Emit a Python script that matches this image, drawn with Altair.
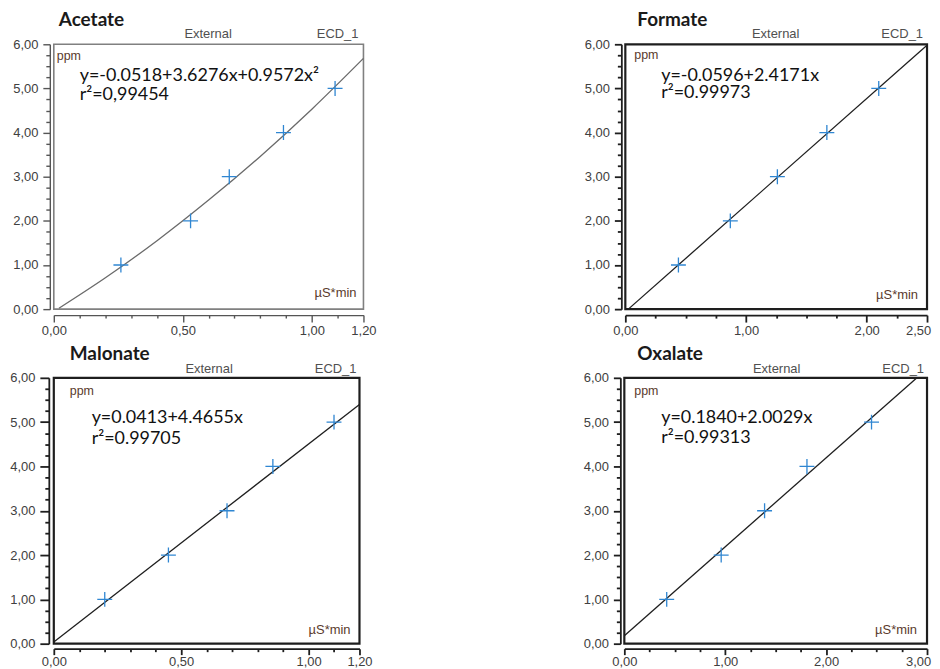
import json
import altair as alt
import pandas as pd

# ---------------- data ----------------
names = ["Acetate", "Formate", "Malonate", "Oxalate"]
equations = ["y=-0.0518+3.6276x+0.9572x²", "y=-0.0596+2.4171x",
             "y=0.0413+4.4655x", "y=0.1840+2.0029x"]
r2_texts = ["r²=0,99454", "r²=0.99973", "r²=0.99705", "r²=0.99313"]

conc_ppm = [1, 2, 3, 4, 5]
acetate_area = [0.26, 0.53, 0.68, 0.89, 1.09]
formate_area = [0.44, 0.87, 1.26, 1.67, 2.10]
malonate_area = [0.20, 0.45, 0.68, 0.86, 1.10]
oxalate_area = [0.42, 0.96, 1.39, 1.81, 2.45]

# calibration curves
acetate_fit_x = [0.02, 0.20, 0.40, 0.60, 0.80, 1.00, 1.20]
acetate_fit_y = [0.02, 0.71, 1.55, 2.47, 3.46, 4.53, 5.68]
formate_fit_x = [0.025, 2.50]
formate_fit_y = [0.00, 5.98]
malonate_fit_x = [0.00, 1.20]
malonate_fit_y = [0.04, 5.40]
oxalate_fit_x = [0.00, 2.90]
oxalate_fit_y = [0.18, 6.00]

x_max = [1.2, 2.5, 1.2, 3.0]
x_major = [[0, 0.5, 1.0, 1.2], [0, 1.0, 2.0, 2.5], [0, 0.5, 1.0, 1.2], [0, 1.0, 2.0, 3.0]]
x_minor_step = [0.1, 0.25, 0.1, 0.25]
y_max = 6.0
y_major = [0, 1.0, 2.0, 3.0, 4.0, 5.0, 6.0]
y_minor_step = 0.25

header_mid = "External"
header_right = "ECD_1"
y_unit = "ppm"
x_unit = "µS*min"

areas = [acetate_area, formate_area, malonate_area, oxalate_area]
fits = [(acetate_fit_x, acetate_fit_y), (formate_fit_x, formate_fit_y),
        (malonate_fit_x, malonate_fit_y), (oxalate_fit_x, oxalate_fit_y)]

# ---------------- styling / layout ----------------
SANS = "Liberation Sans"
CAL = "Lato"
styles = [
    dict(w=311, h=266, frame="#808080", frame_w=1.6, axis="#555555", axis_w=1.4,
         line="#6a6a6a", line_w=1.3, interp="monotone",
         title_dx=5, title_dy=-18, eq_x=26, eq_y=37, r2_y=56,
         ext_x=155, ext_y=-6, ecd_dx=5, ppm_x=3, ppm_y=16, us_dx=7, us_dy=12,
         y_off=4, y_tick=7, y_pad=5, x_off=6, x_tick=7, x_pad=2, last_dx=0),
    dict(w=303, h=266, frame="#1e1e1e", frame_w=2.2, axis="#1e1e1e", axis_w=1.8,
         line="#1e1e1e", line_w=1.3, interp="linear",
         title_dx=12, title_dy=-18, eq_x=36, eq_y=37, r2_y=54,
         ext_x=151, ext_y=-6, ecd_dx=4, ppm_x=9, ppm_y=15, us_dx=9, us_dy=10,
         y_off=4, y_tick=7, y_pad=5, x_off=6, x_tick=7, x_pad=2, last_dx=-9),
    dict(w=307, h=267, frame="#1e1e1e", frame_w=2.2, axis="#1e1e1e", axis_w=1.8,
         line="#1e1e1e", line_w=1.3, interp="linear",
         title_dx=16, title_dy=-18, eq_x=38, eq_y=45, r2_y=66,
         ext_x=156, ext_y=-5, ecd_dx=3, ppm_x=16, ppm_y=17, us_dx=9, us_dy=10,
         y_off=5, y_tick=9, y_pad=5, x_off=5, x_tick=6, x_pad=1, last_dx=0),
    dict(w=304, h=267, frame="#1e1e1e", frame_w=2.2, axis="#1e1e1e", axis_w=1.8,
         line="#1e1e1e", line_w=1.3, interp="linear",
         title_dx=13, title_dy=-18, eq_x=37, eq_y=45, r2_y=65,
         ext_x=153, ext_y=-5, ecd_dx=3, ppm_x=10, ppm_y=17, us_dx=10, us_dy=10,
         y_off=4, y_tick=7, y_pad=5, x_off=5, x_tick=6, x_pad=1, last_dx=-9),
]


def tick_values(vmax, step):
    n = int(round(vmax / step))
    return [round(i * step, 4) for i in range(n + 1)]


def make_axis(orient, values, majors, offset, major_size, minor_size, pad, color, width,
              last_value=None, last_dx=0):
    test = f"indexof({json.dumps(majors)}, datum.value) >= 0"
    extra = {}
    if last_dx:
        extra["labelOffset"] = {"condition": {"test": f"datum.value == {last_value}",
                                              "value": last_dx}, "value": 0}
    return alt.Axis(
        orient=orient, values=values, offset=offset, grid=False, title=None,
        domainColor=color, domainWidth=width, tickColor=color, tickWidth=width,
        tickSize={"condition": {"test": test, "value": major_size}, "value": minor_size},
        labelExpr=f"({test}) ? replace(format(datum.value, '.2f'), '.', ',') : ''",
        labelOverlap=False, labelFlush=False, labelPadding=pad,
        labelFont=SANS, labelFontSize=13, labelColor="#404040",
        **extra,
    )


def text_layer(txt, x, y, font, size, color, align="left", weight="normal"):
    return alt.Chart(pd.DataFrame({"t": [txt]})).mark_text(
        font=font, fontSize=size, color=color, align=align, baseline="alphabetic",
        fontWeight=weight,
    ).encode(x=alt.value(x), y=alt.value(y), text="t:N")


def panel(i):
    s = styles[i]
    w, h = s["w"], s["h"]
    pts = pd.DataFrame({"area": areas[i], "ppm": conc_ppm})
    fit = pd.DataFrame({"area": fits[i][0], "ppm": fits[i][1]})

    xaxis = make_axis("bottom", tick_values(x_max[i], x_minor_step[i]), x_major[i],
                      s["x_off"], s["x_tick"], 3, s["x_pad"], s["axis"], s["axis_w"],
                      last_value=x_max[i], last_dx=s["last_dx"])
    yaxis = make_axis("left", tick_values(y_max, y_minor_step), y_major,
                      s["y_off"], s["y_tick"], 4, s["y_pad"], s["axis"], s["axis_w"])
    x = alt.X("area:Q", scale=alt.Scale(domain=[0, x_max[i]], nice=False, zero=True), axis=xaxis)
    y = alt.Y("ppm:Q", scale=alt.Scale(domain=[0, y_max], nice=False, zero=True), axis=yaxis)

    line = alt.Chart(fit).mark_line(color=s["line"], strokeWidth=s["line_w"],
                                    interpolate=s["interp"]).encode(x=x, y=y)
    crosses = alt.Chart(pts).mark_point(
        shape="M-1,0L1,0M0,-1L0,1", size=225, filled=False,
        color="#2f86d2", strokeWidth=1.3, opacity=1,
    ).encode(x=x, y=y)

    layers = [
        line, crosses,
        text_layer(names[i], s["title_dx"], s["title_dy"], CAL, 19, "#1a1a1a", weight="bold"),
        text_layer(header_mid, s["ext_x"], s["ext_y"], SANS, 13, "#505050", align="center"),
        text_layer(header_right, w - s["ecd_dx"], s["ext_y"], SANS, 13, "#505050", align="right"),
        text_layer(y_unit, s["ppm_x"], s["ppm_y"], SANS, 12.5, "#5a3a2c"),
        text_layer(x_unit, w - s["us_dx"], h - s["us_dy"], SANS, 13, "#5a3a2c", align="right"),
        text_layer(equations[i], s["eq_x"], s["eq_y"], CAL, 18, "#111111"),
        text_layer(r2_texts[i], s["eq_x"], s["r2_y"], CAL, 18, "#111111"),
    ]
    return alt.layer(*layers).properties(
        width=w, height=h,
        view=alt.ViewBackground(stroke=s["frame"], strokeWidth=s["frame_w"], fill="white"),
    )


top = alt.hconcat(panel(0), panel(1), spacing=206)
bottom = alt.hconcat(panel(2), panel(3), spacing=209)
chart = alt.vconcat(top, bottom, spacing=4).properties(
    background="white", padding={"top": 0, "left": 0, "right": 0, "bottom": 0}
)

chart.save("out.html", embed_options={"renderer": "svg", "actions": False})
